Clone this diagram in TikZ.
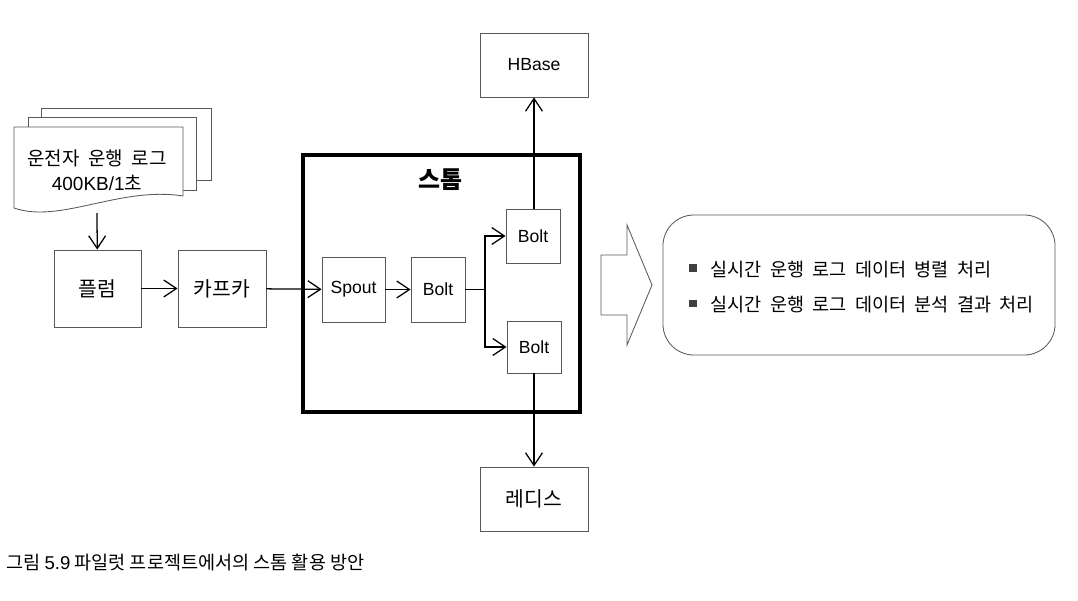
\documentclass[tikz,border=0pt]{standalone}
\usepackage{fontspec}
\setmainfont{Noto Sans CJK KR}
\newfontfamily\latinfont{Liberation Sans}
\usetikzlibrary{arrows.meta}

\newcommand{\bulletbox}{{\color{black!75}\rule[3pt]{5.5pt}{5.5pt}}\hspace{10pt}}

\begin{document}
\begin{tikzpicture}[x=0.025cm, y=-0.025cm, >={Straight Barb[length=9pt,width=12pt]},
    box/.style = {draw=black!65, line width=0.6pt, fill=white, align=center, inner sep=0pt},
    page/.style = {draw=black!65, line width=0.6pt, fill=white},
    link/.style = {draw, line width=0.9pt},
    latin/.style = {font=\latinfont\fontsize{12.5}{15}\selectfont},
    every node/.style = {font=\fontsize{14.5}{17}\selectfont}]

      \useasboundingbox (0,0) rectangle (1078,600);

      % log documents
      \draw[page] (41,180) -- (41,108) -- (211,108) -- (211,180) -- cycle;
      \draw[page] (28,190) -- (28,117) -- (196,117) -- (196,190) -- cycle;
      \draw[page] (14,208) -- (14,127) -- (183,127) -- (183,196)
        .. controls (120,186) and (60,224) .. (14,208);
      \node[font=\fontsize{13.5}{18}\selectfont, align=center] (log) at (97,170) {운전자 \ 운행 \ 로그\\{\latinfont 400KB/1}초};
      \coordinate (logout) at (97,213);

      \node[box, minimum width=2.175cm, minimum height=1.925cm] (flume) at (97.5,288.5) {플럼};
      \node[box, minimum width=2.2cm, minimum height=1.925cm] (kafka) at (222,288.5) {카프카};

      % storm
      \draw[line width=3pt] (303,155) rectangle (580,412);
      \node[font=\fontsize{17}{20}\selectfont\bfseries] (storm) at (440,180) {스톰};
      \node[box, latin, minimum width=1.575cm, minimum height=1.625cm] (spout) at (353.5,289.5) {Spout};
      \node[box, latin, minimum width=1.35cm, minimum height=1.625cm] (bolt) at (438,289.5) {Bolt};
      \node[box, latin, minimum width=1.35cm, minimum height=1.35cm] (boltup) at (533,236) {Bolt};
      \node[box, latin, minimum width=1.35cm, minimum height=1.3cm] (boltdown) at (534,347) {Bolt};
      \coordinate (fork) at (485,289.5);

      \node[box, latin, minimum width=2.7cm, minimum height=1.6cm] (hbase) at (534,65) {HBase};
      \node[box, minimum width=2.7cm, minimum height=1.6cm] (redis) at (534,499) {레디스};

      \draw[link, ->] (logout) -- (flume);
      \draw[link, ->] (flume) -- (kafka);
      \draw[link, ->] (kafka) -- (spout);
      \draw[link, ->] (spout) -- (bolt);
      \draw[link] (bolt) -- (fork);
      \draw[link, ->] (fork) |- (boltup);
      \draw[link, ->] (fork) |- (boltdown);
      \draw[link, ->] (boltup.north -| hbase.south) -- (hbase.south);
      \draw[link, ->] (boltdown.south -| redis.north) -- (redis.north);

      % result
      \draw[page] (601,255) -- (627,255) -- (627,225) -- (652,285) -- (627,345) -- (627,315) -- (601,315) -- cycle;
      \node[box, rounded corners=22pt, minimum width=9.8cm, minimum height=3.5cm] (result) at (859,285) {};
      \node[font=\fontsize{13.2}{25}\selectfont, align=left, anchor=west] (tasks) at (684,287)
        {\bulletbox 실시간 \ 운행 \ 로그 \ 데이터 \ 병렬 \ 처리\\
         \bulletbox 실시간 \ 운행 \ 로그 \ 데이터 \ 분석 \ 결과 \ 처리};

      \node[font=\fontsize{13.2}{15}\selectfont, anchor=west, inner sep=0pt] (caption) at (6,562) {그림 {\latinfont 5.9} 파일럿 프로젝트에서의 스톰 활용 방안};

\end{tikzpicture}
\end{document}
